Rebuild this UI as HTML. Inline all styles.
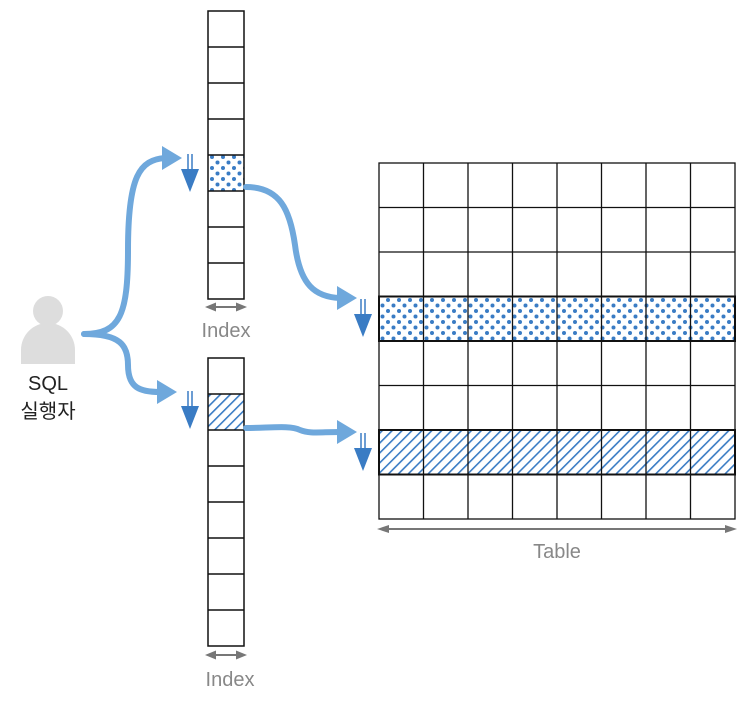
<!DOCTYPE html>
<html><head><meta charset="utf-8"><style>
html,body{margin:0;padding:0;background:#fff;}
svg text{font-family:"Liberation Sans","Noto Sans CJK KR",sans-serif;}
</style></head><body>
<svg width="748" height="698" viewBox="0 0 748 698" xmlns="http://www.w3.org/2000/svg">
<defs>
<pattern id="dots" width="11" height="11" patternUnits="userSpaceOnUse">
<circle cx="3" cy="3" r="2" fill="#3a7cc4"/><circle cx="8.5" cy="8.5" r="2" fill="#3a7cc4"/>
</pattern>
<pattern id="hatch" width="7" height="7" patternUnits="userSpaceOnUse" patternTransform="rotate(45)">
<rect x="0" y="0" width="1.6" height="7" fill="#3a7cc4"/>
</pattern>
<g id="down">
<line x1="-2" y1="0" x2="-2" y2="15" stroke="#3a7cc4" stroke-width="1.5"/>
<line x1="2" y1="0" x2="2" y2="15" stroke="#3a7cc4" stroke-width="1.5"/>
<polygon points="-9,15 9,15 0,38" fill="#3a7cc4"/>
</g>
</defs>

<rect x="208" y="155" width="36" height="36" fill="url(#dots)"/>
<g stroke="#111" stroke-width="1.5" fill="none">
<rect x="208" y="11" width="36" height="288"/>
<line x1="208" y1="47" x2="244" y2="47"/><line x1="208" y1="83" x2="244" y2="83"/>
<line x1="208" y1="119" x2="244" y2="119"/><line x1="208" y1="155" x2="244" y2="155"/>
<line x1="208" y1="191" x2="244" y2="191"/><line x1="208" y1="227" x2="244" y2="227"/>
<line x1="208" y1="263" x2="244" y2="263"/>
</g>
<rect x="208" y="394" width="36" height="36" fill="url(#hatch)"/>
<g stroke="#111" stroke-width="1.5" fill="none">
<rect x="208" y="358" width="36" height="288"/>
<line x1="208" y1="394" x2="244" y2="394"/><line x1="208" y1="430" x2="244" y2="430"/>
<line x1="208" y1="466" x2="244" y2="466"/><line x1="208" y1="502" x2="244" y2="502"/>
<line x1="208" y1="538" x2="244" y2="538"/><line x1="208" y1="574" x2="244" y2="574"/>
<line x1="208" y1="610" x2="244" y2="610"/>
</g>

<rect x="379" y="296.5" width="356" height="44.5" fill="url(#dots)"/>
<rect x="379" y="430" width="356" height="44.5" fill="url(#hatch)"/>
<g stroke="#111" stroke-width="1.3" fill="none">
<rect x="379" y="163" width="356" height="356"/>
<line x1="423.5" y1="163" x2="423.5" y2="519"/><line x1="468" y1="163" x2="468" y2="519"/>
<line x1="512.5" y1="163" x2="512.5" y2="519"/><line x1="557" y1="163" x2="557" y2="519"/>
<line x1="601.5" y1="163" x2="601.5" y2="519"/><line x1="646" y1="163" x2="646" y2="519"/>
<line x1="690.5" y1="163" x2="690.5" y2="519"/>
<line x1="379" y1="207.5" x2="735" y2="207.5"/><line x1="379" y1="252" x2="735" y2="252"/>
<line x1="379" y1="385.5" x2="735" y2="385.5"/>
</g>
<g stroke="#111" stroke-width="2" fill="none">
<rect x="379" y="296.5" width="356" height="44.5"/>
<rect x="379" y="430" width="356" height="44.5"/>
</g>

<g stroke="#777" stroke-width="2" fill="#777">
<line x1="214" y1="307" x2="238" y2="307"/>
<polygon points="205,307 216,302.5 216,311.5" stroke="none"/><polygon points="247,307 236,302.5 236,311.5" stroke="none"/>
<line x1="214" y1="655" x2="238" y2="655"/>
<polygon points="205,655 216,650.5 216,659.5" stroke="none"/><polygon points="247,655 236,650.5 236,659.5" stroke="none"/>
<line x1="386" y1="529" x2="728" y2="529"/>
<polygon points="377,529 389,525 389,533" stroke="none"/><polygon points="737,529 725,525 725,533" stroke="none"/>
</g>
<text x="226" y="337" font-size="20" fill="#888" text-anchor="middle">Index</text>
<text x="230" y="686" font-size="20" fill="#888" text-anchor="middle">Index</text>
<text x="557" y="558" font-size="20" fill="#888" text-anchor="middle">Table</text>

<circle cx="48" cy="311" r="15" fill="#ddd"/>
<path d="M21,364 L21,350 A27,27 0 0 1 75,350 L75,364 Z" fill="#ddd"/>
<text x="48" y="390" font-size="20" fill="#222" text-anchor="middle">SQL</text>
<text x="48" y="418" font-size="20" fill="#222" text-anchor="middle">실행자</text>

<g stroke="#6fa8dc" stroke-width="6" fill="none" stroke-linecap="round">
<path d="M84,334 C120,334 128,315 128,250 C128,175 140,160 165,158"/>
<path d="M84,334 C120,334 128,345 128,365 C128,388 140,392 160,392"/>
<path d="M246,187 C280,187 290,210 295,245 C300,285 315,297 340,298"/>
<path d="M246,428 C270,428 290,425 300,430 C310,434 320,432 340,432"/>
</g>
<g fill="#6fa8dc">
<polygon points="162,146 182,158 162,170"/>
<polygon points="157,380 177,392 157,404"/>
<polygon points="337,286 357,298 337,310"/>
<polygon points="337,420 357,432 337,444"/>
</g>
<use href="#down" x="190" y="154"/>
<use href="#down" x="190" y="391"/>
<use href="#down" x="363" y="299"/>
<use href="#down" x="363" y="433"/>
</svg>
</body></html>
